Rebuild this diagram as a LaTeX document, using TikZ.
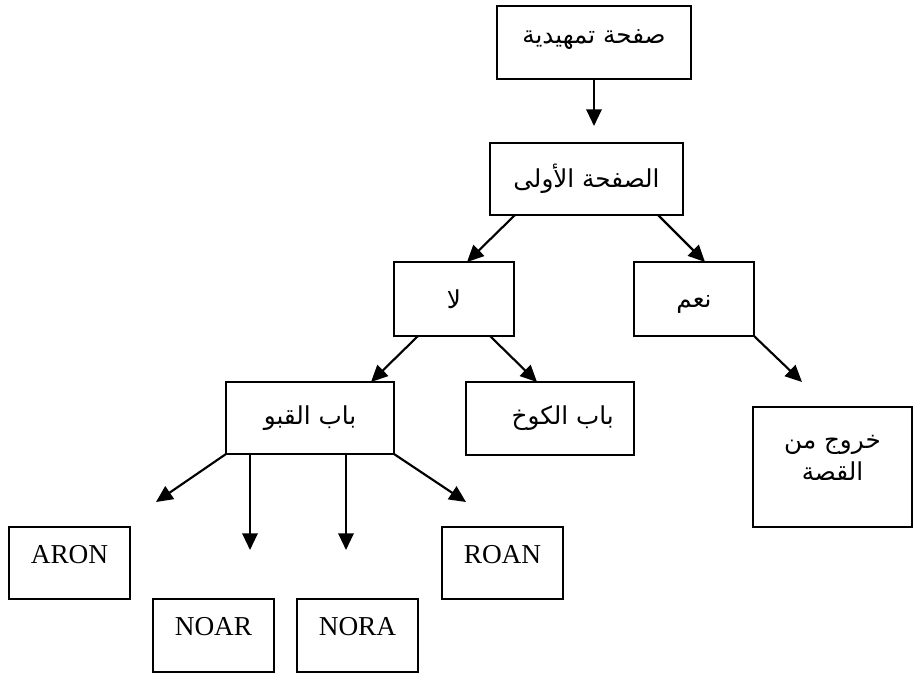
\documentclass[tikz,border=0pt]{standalone}
\usepackage{fontspec}
\setmainfont{Liberation Serif}
\newfontfamily\arabicfont[Script=Arabic]{DejaVu Sans}
\TeXXeTstate=1
\usetikzlibrary{arrows.meta,calc}

\begin{document}
\begin{tikzpicture}[x=0.75pt, y=-0.75pt,
    box/.style={draw, line width=1.6pt, inner sep=0pt, outer sep=0pt},
    boxsize/.style 2 args={minimum width=#1*0.75pt, minimum height=#2*0.75pt},
    arbox/.style={box, font=\fontsize{18.5}{24}\selectfont\arabicfont},
    enbox/.style={box, font=\fontsize{20.5}{22}\selectfont, text height=10pt, text depth=10pt},
    arr/.style={-{Triangle[length=12.5pt, width=11.5pt]}, line width=1.6pt}]

    \useasboundingbox (0,0) rectangle (914,675);

    % Start pages
    \node[arbox, boxsize={194}{73}, text depth=9pt] (intro) at (594,42.5) {\beginR صفحة تمهيدية\endR};
    \node[arbox, boxsize={193}{72}] (first) at (586.5,179) {\beginR الصفحة الأولى\endR};

    % Choice
    \node[arbox, boxsize={120}{74}] (no) at (454,299) {\beginR لا\endR};
    \node[arbox, boxsize={120}{74}, text height=13pt, text depth=0pt] (yes) at (694,299) {\beginR نعم\endR};

    % Doors and exit
    \node[arbox, boxsize={168}{72}] (cellar) at (310,418) {\beginR باب القبو\endR};
    \node[arbox, boxsize={168}{73}] (hut) at (550,418.5) {\hspace*{19pt}\beginR باب الكوخ\endR};
    \node[arbox, boxsize={159}{120}, align=center, text depth=14pt] (exit) at (832.5,467)
        {\beginR خروج من\endR\\\beginR القصة\endR};

    % Names
    \node[enbox, boxsize={121}{72}] (aron) at (69.5,563) {ARON};
    \node[enbox, boxsize={121}{73}] (noar) at (213.5,635.5) {NOAR};
    \node[enbox, boxsize={121}{73}] (nora) at (357.5,635.5) {NORA};
    \node[enbox, boxsize={121}{72}] (roan) at (502.5,563) {ROAN};

    % Free arrow ends
    \coordinate (t1) at (594,126);
    \coordinate (t2) at (802,382);
    \coordinate (t3) at (156,502);
    \coordinate (t4) at (250,550);
    \coordinate (t5) at (346,550);
    \coordinate (t6) at (466,502);

    % Arrows
    \draw[arr] (intro.south) -- (t1);
    \draw[arr] ($(first.south west)+(25,0)$) -- ($(no.north west)+(73,0)$);
    \draw[arr] ($(first.south west)+(168,0)$) -- ($(yes.north west)+(71,0)$);
    \draw[arr] ($(no.south west)+(24,0)$) -- ($(cellar.north west)+(145,0)$);
    \draw[arr] ($(no.south west)+(96,0)$) -- ($(hut.north west)+(71,0)$);
    \draw[arr] (yes.south east) -- (t2);
    \draw[arr] (cellar.south west) -- (t3);
    \draw[arr] ($(cellar.south west)+(24,0)$) -- (t4);
    \draw[arr] ($(cellar.south west)+(120,0)$) -- (t5);
    \draw[arr] (cellar.south east) -- (t6);
\end{tikzpicture}
\end{document}
